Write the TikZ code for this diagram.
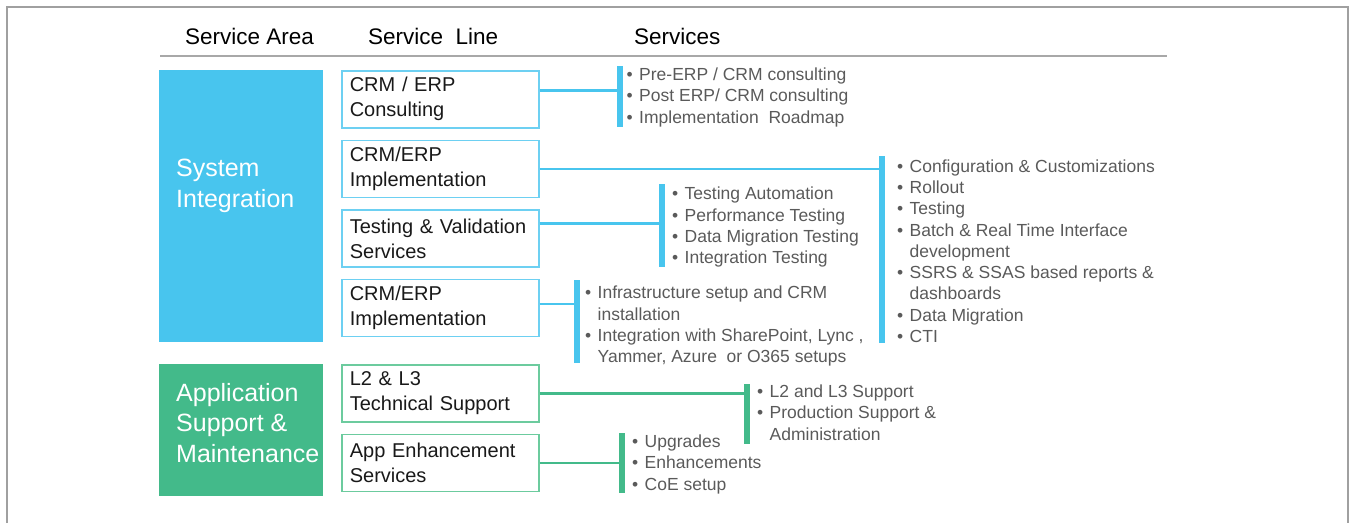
\documentclass[tikz,border=0pt]{standalone}
\usepackage{fontspec}
\setmainfont{Liberation Sans}
\usetikzlibrary{positioning, calc}

\definecolor{siblue}{HTML}{48C5EE}
\definecolor{siedge}{HTML}{6DD0F2}
\definecolor{asgreen}{HTML}{43BA8A}
\definecolor{asedge}{HTML}{6CCB9E}
\definecolor{bodygray}{HTML}{5A5A5A}
\definecolor{rulegray}{HTML}{A8A8A8}
\definecolor{framegray}{HTML}{A0A0A0}

\newcommand{\bul}{\makebox[12.5pt][l]{\textbullet}}
\newcommand{\cnt}{\hspace*{12.5pt}}

\begin{document}
\begin{tikzpicture}[
    x=1pt, y=-1pt,
    head/.style={font=\fontsize{22.5}{27}\selectfont, anchor=base west, inner sep=0},
    area/.style={rectangle, minimum width=164pt, anchor=north west, inner sep=0, outer sep=0},
    arealabel/.style={font=\fontsize{25}{30.5}\selectfont, text=white, align=left,
                      anchor=north west, inner sep=0},
    svcline/.style={rectangle, draw=#1, line width=1.6pt, minimum width=197pt, minimum height=57pt,
                    text width=181pt, inner xsep=8pt, inner ysep=0, align=left,
                    font=\fontsize{20}{25}\selectfont, text=black!90},
    bar/.style={rectangle, fill=#1, minimum width=6pt, inner sep=0, outer sep=0},
    link/.style={draw=#1, line width=2.6pt},
    svclist/.style={font=\fontsize{17.5}{21.3}\selectfont, text=bodygray, align=left,
                    anchor=north west, inner sep=0}
]
\useasboundingbox (0,0) rectangle (1349,523);
\draw[framegray, line width=1.3pt] (7,523) -- (7,7) -- (1348,7) -- (1348,523);

\node[head] (h-area) at (185,44.5) {Service Area};
\node[head] (h-line) at (368,44.5) {Service\ \ Line};
\node[head] (h-svc) at (634,44.5) {Services};
\draw[rulegray, line width=2.5pt] (160,56) -- (1167,56);

\node[area, fill=siblue, minimum height=272pt] (si) at (159,70) {};
\node[arealabel] (si-text) at ($(si.north west)+(17,89)$) {System\\Integration};
\node[area, fill=asgreen, minimum height=131.7pt] (asm) at (159,364) {};
\node[arealabel] (asm-text) at ($(asm.north west)+(17,19)$) {Application\\Support \&\\Maintenance};

\node[svcline=siedge, anchor=north west] (consult) at ([xshift=18pt]si.north east) {CRM / ERP\\Consulting};
\node[svcline=siedge, below=11pt of consult] (impl) {CRM/ERP\\Implementation};
\node[svcline=siedge, below=11pt of impl] (testing) {Testing \& Validation\\Services};
\node[svcline=siedge, below=11pt of testing] (infra) {CRM/ERP\\Implementation};
\node[svcline=asedge, anchor=north west] (support) at ([xshift=18pt]asm.north east) {L2 \& L3\\Technical Support};
\node[svcline=asedge, below=11pt of support] (enhance) {App Enhancement\\Services};

\node[bar=siblue, minimum height=61pt] (bar1) at (619.5,96.5) {};
\node[bar=siblue, minimum height=187pt] (bar2) at (882,249.5) {};
\node[bar=siblue, minimum height=83pt] (bar3) at (662,225.5) {};
\node[bar=siblue, minimum height=83pt] (bar4) at (577,321.5) {};
\node[bar=asgreen, minimum height=60pt] (bar5) at (747,414) {};
\node[bar=asgreen, minimum height=60pt] (bar6) at (622,463) {};

\coordinate (c1) at ([yshift=8.6pt]consult.east);
\coordinate (c3) at ([yshift=14.8pt]testing.east);
\coordinate (c4) at ([yshift=4.3pt]infra.east);
\draw[link=siblue] (c1) -- (c1 -| bar1.center);
\draw[link=siblue] (impl.east) -- (impl.east -| bar2.center);
\draw[link=siblue] (c3) -- (c3 -| bar3.center);
\draw[link=siblue] (c4) -- (c4 -| bar4.center);
\draw[link=asgreen] (support.east) -- (support.east -| bar5.center);
\draw[link=asgreen] (enhance.east) -- (enhance.east -| bar6.center);

\node[svclist] (list1) at ([xshift=4pt, yshift=-1.6pt]bar1.north east)
  {\bul Pre-ERP / CRM consulting\\ \bul Post ERP/ CRM consulting\\ \bul Implementation\ \ Roadmap};
\node[svclist] (list2) at ([xshift=12pt, yshift=-3.3pt]bar2.north east)
  {\bul Configuration \& Customizations\\ \bul Rollout\\ \bul Testing\\
   \bul Batch \& Real Time Interface\\ \cnt development\\ \bul SSRS \& SSAS based reports \&\\
   \cnt dashboards\\ \bul Data Migration\\ \bul CTI};
\node[svclist] (list3) at ([xshift=7pt, yshift=-3pt]bar3.north east)
  {\bul Testing Automation\\ \bul Performance Testing\\ \bul Data Migration Testing\\ \bul Integration Testing};
\node[svclist] (list4) at ([xshift=5pt, yshift=-6pt]bar4.north east)
  {\bul Infrastructure setup and CRM\\ \cnt installation\\ \bul Integration with SharePoint, Lync ,\\
   \cnt Yammer, Azure\ \ or O365 setups};
\node[svclist] (list5) at ([xshift=7pt, yshift=-0.6pt]bar5.north east)
  {\bul L2 and L3 Support\\ \bul Production Support \&\\ \cnt Administration};
\node[svclist] (list6) at ([xshift=7pt, yshift=-1.6pt]bar6.north east)
  {\bul Upgrades\\ \bul Enhancements\\ \bul CoE setup};
\end{tikzpicture}
\end{document}
